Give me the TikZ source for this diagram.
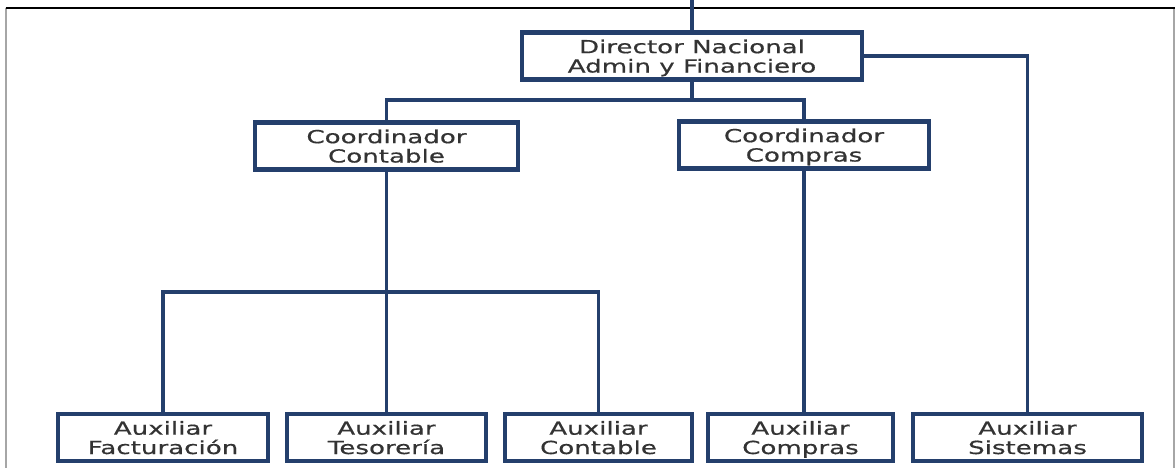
\documentclass[tikz,border=0pt]{standalone}
\usepackage{fontspec}
\setmainfont{DejaVu Sans}[FakeStretch=1.45,FakeBold=0.6]
\usetikzlibrary{positioning}
\definecolor{navy}{HTML}{243F6C}
\definecolor{txtgray}{HTML}{333333}

\begin{document}
\begin{tikzpicture}[x=0.75pt, y=-0.75pt,
    cargo/.style={draw=navy, line width=3.3pt, fill=white, align=center, text=txtgray,
      minimum height=35pt, inner sep=1pt, text depth=0pt, font=\fontsize{13.5}{14.5}\selectfont},
    enlace/.style={draw=navy, line width=2.8pt}]
  \useasboundingbox (0,0) rectangle (1175,468);
  % marco
  \draw[gray!70, line width=1.2pt] (6,8) -- (6,468);
  \draw[gray!70, line width=1.2pt] (1174,8) -- (1174,468);
  \draw[black, line width=1.5pt] (5.5,8) -- (1174.5,8);

  % cargos
  \node[cargo, minimum width=255pt]    (dir) at (692,56)    {Director Nacional\\Admin y Financiero};
  \node[cargo, minimum width=197pt]    (cco) at (386.5,146) {Coordinador\\Contable};
  \node[cargo, minimum width=187.5pt]  (ccp) at (804,145)   {Coordinador\\Compras};
  \node[cargo, minimum width=157.5pt]  (fac) at (163,437.5) {Auxiliar\\Facturación};
  \node[cargo, minimum width=149.25pt] (tes) at (386.5,437.5) {Auxiliar\\Tesorería};
  \node[cargo, minimum width=140.25pt] (con) at (598.5,437.5) {Auxiliar\\Contable};
  \node[cargo, minimum width=138.75pt] (acp) at (800.5,437.5) {Auxiliar\\Compras};
  \node[cargo, minimum width=171.75pt] (sis) at (1027.5,437.5) {Auxiliar\\Sistemas};

  % enlaces
  \coordinate (arriba) at (692,0);
  \coordinate (bus) at (692,100);
  \coordinate (barra) at (386.5,292);
  \draw[enlace] (arriba) -- (dir.north);
  \draw[enlace] (dir.south) -- (bus);
  \draw[enlace] (cco.north) |- (bus) -| (ccp.north);
  \draw[enlace] (dir.east) -| (sis.north);
  \draw[enlace] (cco.south) -- (cco.south |- tes.north);
  \draw[enlace] (fac.north) -- (fac.north |- barra) -- (con.north |- barra) -- (con.north);
  \draw[enlace] (ccp.south) -- (ccp.south |- acp.north);
\end{tikzpicture}
\end{document}
